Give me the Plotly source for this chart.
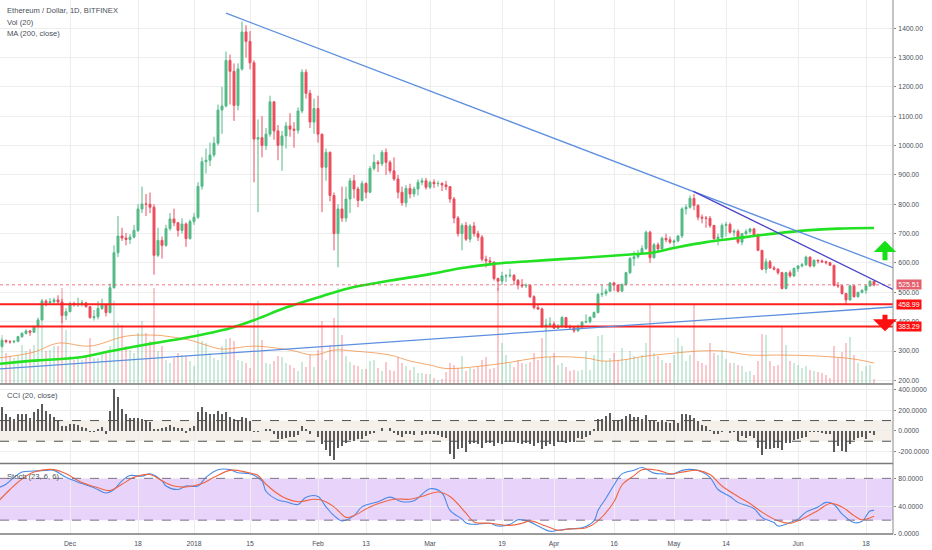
import pandas as pd
import plotly.graph_objects as go

# ---------------- data ----------------
first_date = "2017-11-13"
last_date = "2018-06-20"
first_open = 308

close_nov = [316, 336, 332, 331, 333, 349, 360, 368, 364, 383, 406, 470, 464, 468, 474, 467, 421, 434]
high_nov = [322, 342, 339, 337, 338, 352, 364, 374, 372, 387, 414, 478, 476, 480, 482, 490, 478, 446]
low_nov = [305, 312, 326, 325, 326, 330, 345, 356, 352, 362, 380, 404, 452, 458, 462, 458, 395, 405]

close_dec = [462, 458, 461, 464, 451, 414, 417, 445, 457, 431, 516, 635, 692, 685, 680, 688, 711, 784, 801, 800,
             790, 626, 677, 660, 717, 750, 737, 711, 733, 683, 741]
high_dec = [468, 468, 482, 474, 468, 452, 440, 470, 478, 460, 530, 660, 760, 720, 702, 698, 730, 800, 860, 835,
            840, 800, 720, 690, 730, 770, 785, 740, 752, 738, 748]
low_dec = [432, 452, 450, 452, 448, 410, 404, 408, 440, 418, 428, 512, 620, 675, 660, 665, 684, 706, 770, 760,
           770, 560, 620, 615, 655, 710, 725, 690, 700, 655, 680]

close_jan = [756, 861, 945, 950, 968, 1008, 1121, 1135, 1290, 1253, 1137, 1261, 1387, 1355, 1282, 1022, 1027, 1000,
             1039, 1149, 1050, 1001, 1033, 1067, 1056, 1052, 1118, 1250, 1178, 1080, 1126]
high_jan = [770, 875, 960, 990, 1010, 1030, 1140, 1200, 1320, 1310, 1280, 1280, 1423, 1410, 1390, 1290, 1089, 1100,
            1060, 1170, 1150, 1070, 1050, 1080, 1110, 1080, 1130, 1260, 1260, 1190, 1160]
low_jan = [730, 750, 850, 905, 930, 960, 1000, 1040, 1130, 1140, 1084, 1120, 1255, 1300, 1260, 875, 773, 960,
           985, 1030, 1020, 950, 914, 990, 1030, 993, 1040, 1110, 1160, 1060, 1040]

close_feb = [1039, 926, 977, 830, 700, 784, 753, 818, 880, 852, 813, 871, 841, 922, 943, 938, 977, 943, 914, 886,
             841, 805, 854, 835, 852, 875, 880, 858]
high_feb = [1170, 1040, 990, 980, 840, 800, 860, 860, 890, 900, 860, 880, 875, 930, 970, 950, 985, 990, 950, 960,
            900, 860, 865, 870, 860, 885, 890, 890]
low_feb = [1010, 773, 880, 810, 643, 585, 740, 740, 770, 820, 790, 810, 820, 838, 915, 910, 930, 900, 905, 880,
           820, 795, 790, 820, 825, 830, 865, 850]

close_mar = [875, 870, 871, 866, 860, 818, 753, 700, 728, 681, 726, 700, 688, 613, 607, 603, 547, 538, 556, 556,
             558, 541, 525, 522, 524, 485, 448, 443, 383, 389, 392]
high_mar = [880, 885, 880, 875, 880, 862, 825, 760, 735, 740, 732, 740, 710, 695, 625, 620, 605, 550, 570, 562,
            580, 562, 545, 545, 530, 525, 490, 460, 448, 410, 415]
low_mar = [852, 855, 860, 845, 848, 805, 735, 690, 643, 675, 670, 690, 675, 605, 585, 595, 540, 505, 525, 535,
           550, 525, 510, 515, 515, 480, 442, 440, 380, 368, 385]

close_apr = [378, 383, 414, 381, 380, 369, 381, 398, 400, 415, 431, 493, 496, 504, 532, 525, 504, 527, 567, 615,
             621, 632, 649, 705, 618, 662, 648, 684, 679, 671]
high_apr = [400, 392, 420, 416, 390, 382, 390, 402, 425, 418, 435, 498, 527, 512, 535, 536, 526, 530, 570, 620,
            640, 645, 660, 710, 710, 668, 670, 690, 700, 690]
low_apr = [375, 375, 380, 378, 372, 362, 365, 378, 396, 394, 412, 428, 484, 488, 502, 505, 500, 502, 523, 562,
           590, 615, 628, 645, 600, 615, 640, 645, 670, 665]

close_may = [675, 692, 784, 790, 820, 796, 756, 753, 752, 728, 683, 688, 728, 731, 705, 708, 671, 700, 707, 716,
             696, 643, 579, 604, 583, 579, 567, 513, 567, 556, 581]
high_may = [680, 695, 790, 800, 830, 835, 800, 765, 760, 760, 730, 700, 735, 740, 738, 715, 715, 702, 715, 720,
            720, 700, 645, 615, 610, 590, 582, 570, 570, 575, 585]
low_may = [650, 670, 685, 765, 785, 780, 745, 735, 720, 720, 670, 660, 680, 690, 700, 690, 665, 660, 695, 700,
           690, 640, 575, 565, 580, 575, 560, 510, 510, 550, 552]

close_jun = [590, 594, 620, 590, 609, 607, 604, 601, 592, 524, 522, 496, 474, 522, 485, 500, 507, 522, 538, 525.51]
high_jun = [592, 600, 625, 622, 612, 612, 612, 608, 604, 594, 535, 525, 498, 526, 522, 502, 510, 524, 540, 538]
low_jun = [570, 585, 590, 585, 585, 598, 600, 595, 590, 520, 515, 492, 460, 472, 482, 482, 496, 495, 518, 520]

# volume (relative units)
volume_nov13 = [40]
volume_nov14_jan7 = [49, 31, 28, 26, 29, 39, 33, 35, 39, 56, 84, 33, 34, 38, 38, 96, 54, 28, 24, 26,
                     24, 29, 46, 26, 26, 29, 33, 38, 83, 61, 59, 38, 34, 31, 51, 63, 51, 43, 96, 33,
                     38, 24, 21, 26, 31, 29, 28, 23, 18, 54, 43, 41, 31, 26, 24]
volume_jan8_mar5 = [38, 45, 46, 43, 24, 23, 21, 16, 79, 83, 44, 21, 20, 23, 28, 27, 21, 19, 16, 13,
                    22, 17, 29, 17, 34, 63, 24, 39, 66, 96, 49, 28, 22, 19, 18, 15, 15, 23, 24, 16,
                    13, 22, 14, 13, 27, 21, 18, 14, 17, 11, 11, 10, 10, 6, 4, 5, 12]
volume_mar6_apr29 = [21, 19, 16, 28, 13, 16, 15, 18, 24, 27, 15, 16, 96, 41, 29, 21, 17, 24, 21, 20,
                     22, 31, 24, 46, 54, 27, 31, 19, 21, 17, 13, 14, 13, 14, 33, 14, 29, 48, 49, 23,
                     26, 31, 24, 36, 25, 33, 28, 26, 29, 41, 81, 31, 28, 24, 21]
volume_apr30_jun20 = [21, 29, 46, 38, 23, 29, 79, 23, 21, 19, 41, 31, 29, 34, 25, 21, 21, 19, 18, 12,
                      13, 9, 23, 50, 49, 23, 18, 19, 58, 39, 23, 21, 19, 16, 18, 14, 13, 12, 11, 9,
                      6, 38, 26, 32, 41, 47, 29, 21, 13, 18, 19, 5]

volma_dates = ["2017-11-13", "2017-11-22", "2017-11-28", "2017-12-06", "2017-12-15", "2017-12-22", "2017-12-25",
               "2017-12-31", "2018-01-04", "2018-01-08", "2018-01-16", "2018-01-25", "2018-01-31", "2018-02-05",
               "2018-02-10", "2018-02-19", "2018-02-24", "2018-03-01", "2018-03-05", "2018-03-18", "2018-03-30",
               "2018-04-09", "2018-04-13", "2018-04-18", "2018-04-24", "2018-04-30", "2018-05-07", "2018-05-13",
               "2018-05-20", "2018-05-28", "2018-06-06", "2018-06-15", "2018-06-20"]
volma_vals = [26, 32, 41, 38, 48, 49, 48, 44, 39, 35, 38, 34, 29, 34, 33, 29, 23, 19, 15.5, 20, 27,
              26, 23, 24, 28, 30.5, 33, 33, 29, 29, 28, 25, 21]

ma200_dates = ["2017-11-13", "2017-11-23", "2017-12-03", "2017-12-12", "2017-12-22", "2017-12-31", "2018-01-10",
               "2018-01-16", "2018-01-24", "2018-02-02", "2018-02-10", "2018-02-19", "2018-03-01", "2018-03-09",
               "2018-03-17", "2018-03-26", "2018-04-03", "2018-04-12", "2018-04-20", "2018-04-25", "2018-05-01",
               "2018-05-09", "2018-05-17", "2018-05-26", "2018-06-03", "2018-06-11", "2018-06-20"]
ma200_vals = [256, 268, 278, 302, 327, 348, 378, 405, 448, 487, 518, 540, 562, 583, 597, 606, 613, 621, 629,
              634, 651, 671, 685, 700, 711, 717, 719]

cci_nov13 = [180]
cci_nov14_mar9 = [232, 168, 135, 113, 168, 168, 168, 129, 187, 210, 265, 194, 168, 135, 103, 48, 48, 65, 65, 58,
                  39, 32, -6, -6, 16, 39, -26, 194, 403, 329, 216, 161, 129, 129, 129, 113, 103, 87, 16, 16,
                  32, 42, 55, 42, 32, 32, -23, 32, 45, 187, 232, 187, 168, 168, 194, 168, 187, 135, 113, 103,
                  135, 123, 97, -6, -6, 3, 16, 16, -26, -81, -81, -65, -58, -58, -39, 48, 16, -26, 3, -58,
                  -129, -187, -242, -284, -168, -145, -113, -90, -97, -81, -81, -48, -32, -16, 3, 32, 3, 26, -16, -39,
                  -58, -26, -26, -39, 3, -39, -32, -26, -32, -39, -58, -71, -219, -274, -177, -161]
cci_mar10_jun20 = [-200, -129, -113, -129, -161, -113, -113, -145, -113, -123, -103, -103, -103, -113, -123, -113,
                   -129, -145, -113, -177, -145, -129, -145, -103, -103, -113, -103, -103, -65, -81, -58, -39, 16,
                   113, 113, 145, 177, 97, 103, 113, 145, 161, 135, 135, 113, 155, 103, 97, 90, 103, 90, 81, 103,
                   81, 161, 161, 155, 123, 97, 58, 48, 6, -32, -32, -6, 3, -16, -6, -97, -48, -65, -48, -65, -168,
                   -232, -177, -177, -161, -161, -187, -113, -113, -90, -81, -71, -58, -6, -6, -10, -16, -32, -26,
                   -200, -145, -194, -200, -129, -90, -71, -58, -81, -16, -39]

stoch_k_dates = ["2017-11-13", "2017-11-15", "2017-11-17", "2017-11-19", "2017-11-22", "2017-11-25", "2017-11-27",
                 "2017-11-30", "2017-12-04", "2017-12-07", "2017-12-10", "2017-12-12", "2017-12-14", "2017-12-16",
                 "2017-12-19", "2017-12-21", "2017-12-24", "2017-12-25", "2017-12-28", "2017-12-30", "2018-01-02",
                 "2018-01-04", "2018-01-07", "2018-01-10", "2018-01-12", "2018-01-15", "2018-01-18", "2018-01-19",
                 "2018-01-22", "2018-01-24", "2018-01-27", "2018-01-29", "2018-02-01", "2018-02-03", "2018-02-05",
                 "2018-02-07", "2018-02-10", "2018-02-12", "2018-02-16", "2018-02-19", "2018-02-22", "2018-02-25",
                 "2018-03-01", "2018-03-04", "2018-03-06", "2018-03-09", "2018-03-10", "2018-03-12", "2018-03-16",
                 "2018-03-18", "2018-03-21", "2018-03-23", "2018-03-26", "2018-03-28", "2018-03-31", "2018-04-02",
                 "2018-04-05", "2018-04-08", "2018-04-11", "2018-04-12", "2018-04-14", "2018-04-16", "2018-04-18",
                 "2018-04-21", "2018-04-23", "2018-04-26", "2018-04-28", "2018-05-01", "2018-05-03", "2018-05-06",
                 "2018-05-08", "2018-05-10", "2018-05-12", "2018-05-15", "2018-05-17", "2018-05-21", "2018-05-23",
                 "2018-05-26", "2018-05-27", "2018-05-30", "2018-06-01", "2018-06-03", "2018-06-06", "2018-06-08",
                 "2018-06-10", "2018-06-12", "2018-06-15", "2018-06-17", "2018-06-19", "2018-06-20"]
stoch_k_vals = [66.5, 71.5, 81.5, 89, 90.5, 91.5, 91.5, 81.5, 72.5, 66.5, 59, 64, 76.5, 84, 83, 86.5, 76.5, 69, 64,
                69, 69, 81.5, 92.5, 92.5, 88, 86.5, 76.5, 61.5, 49, 46.5, 42.5, 53, 54, 39, 26.5, 19, 26.5, 39,
                46.5, 53, 46.5, 48, 65, 59, 34, 21.5, 16, 14, 15.5, 11.5, 14, 20.5, 17.5, 11.5, 4, 5.5, 7.5, 9,
                19, 34, 51.5, 70.5, 86.5, 91.5, 95.5, 87.5, 86.5, 86.5, 91.5, 92.5, 89, 81.5, 64, 54, 45.5, 36.5,
                24, 16.5, 11.5, 16.5, 21.5, 31.5, 39, 45.5, 42.5, 29, 16.5, 18.5, 33, 34]

stoch_d_dates = ["2017-11-13", "2017-11-16", "2017-11-19", "2017-11-22", "2017-11-27", "2017-11-30", "2017-12-04",
                 "2017-12-08", "2017-12-11", "2017-12-14", "2017-12-17", "2017-12-21", "2017-12-24", "2017-12-27",
                 "2017-12-30", "2018-01-03", "2018-01-06", "2018-01-10", "2018-01-14", "2018-01-17", "2018-01-19",
                 "2018-01-23", "2018-01-27", "2018-01-31", "2018-02-02", "2018-02-05", "2018-02-08", "2018-02-10",
                 "2018-02-14", "2018-02-20", "2018-02-24", "2018-02-27", "2018-03-03", "2018-03-06", "2018-03-10",
                 "2018-03-12", "2018-03-16", "2018-03-21", "2018-03-24", "2018-03-26", "2018-03-30", "2018-04-02",
                 "2018-04-05", "2018-04-09", "2018-04-12", "2018-04-16", "2018-04-18", "2018-04-21", "2018-04-23",
                 "2018-04-27", "2018-04-30", "2018-05-03", "2018-05-07", "2018-05-10", "2018-05-13", "2018-05-17",
                 "2018-05-20", "2018-05-23", "2018-05-27", "2018-05-30", "2018-06-02", "2018-06-06", "2018-06-09",
                 "2018-06-12", "2018-06-15", "2018-06-17", "2018-06-20"]
stoch_d_vals = [46.5, 64, 79, 89, 92.5, 86.5, 74, 66.5, 62.5, 71.5, 81.5, 85.5, 76.5, 69, 67.5, 72.5, 81.5, 91.5,
                89, 84, 71.5, 54, 46.5, 50, 48.5, 39, 24, 26.5, 39, 50, 50, 54, 60.5, 54, 30, 17.5, 15.5, 12.5,
                15.5, 19, 11.5, 5.5, 7.5, 9, 19, 46.5, 70.5, 84, 92.5, 91.5, 86.5, 89, 91.5, 85.5, 69, 54, 44,
                31.5, 19, 15.5, 21.5, 34, 44, 39, 26.5, 20.5, 25.5]

# drawings
trend_upper_x = ["2018-01-09 00:00", "2018-06-24 18:00"]
trend_upper_y = [1451, 584]
trend_inner_x = ["2018-05-05 20:00", "2018-06-24 18:00"]
trend_inner_y = [844, 510]
trend_lower_x = ["2017-11-13 12:00", "2018-06-24 18:00"]
trend_lower_y = [239, 450]
level_lines = [458.99, 383.29]
last_price = 525.51
arrow_x = "2018-06-22 18:00"
arrow_up_tip = 676
arrow_down_tip = 367

x_range = ["2017-11-13 12:00", "2018-06-24 18:00"]
x_tick_dates = ["2017-11-13 12:00", "2017-12-01 00:00", "2017-12-18 00:00", "2018-01-01 00:00",
                "2018-01-15 00:00", "2018-02-01 00:00", "2018-02-13 00:00", "2018-03-01 00:00",
                "2018-03-19 00:00", "2018-04-01 00:00", "2018-04-16 00:00", "2018-05-01 00:00",
                "2018-05-14 00:00", "2018-06-01 00:00", "2018-06-18 00:00"]
x_tick_text = ["13", "Dec", "18", "2018", "15", "Feb", "13", "Mar", "19", "Apr", "16", "May", "14", "Jun", "18"]
price_ticks = [200, 300, 400, 500, 600, 700, 800, 900, 1000, 1100, 1200, 1300, 1400]
cci_ticks = [-200, 0, 200, 400]
cci_tick_text = ["-200.0000", "0.0000", "200.0000", "400.0000"]
stoch_ticks = [0, 40, 80]
stoch_tick_text = ["0.0000", "40.0000", "80.0000"]

# ---------------- assemble ----------------
dates = pd.date_range(first_date, last_date, freq="D")
closes = close_nov + close_dec + close_jan + close_feb + close_mar + close_apr + close_may + close_jun
highs = high_nov + high_dec + high_jan + high_feb + high_mar + high_apr + high_may + high_jun
lows = low_nov + low_dec + low_jan + low_feb + low_mar + low_apr + low_may + low_jun
opens = [first_open] + closes[:-1]
volumes = volume_nov13 + volume_nov14_jan7 + volume_jan8_mar5 + volume_mar6_apr29 + volume_apr30_jun20
cci = cci_nov13 + cci_nov14_mar9 + cci_mar10_jun20
assert len(dates) == len(closes) == len(highs) == len(lows) == len(volumes) == len(cci)

UP = "#53b987"
DOWN = "#eb4d5c"
vol_colors = ["rgba(83,185,135,0.30)" if c >= o else "rgba(235,77,92,0.30)" for o, c in zip(opens, closes)]
DAY_MS = 86400000

FONT = "Liberation Sans, Arial, sans-serif"
TXT = "#4a4f5a"
GRID = "#ededed"
XR = 893 / 932

fig = go.Figure()

fig.add_trace(go.Bar(x=dates, y=volumes, marker=dict(color=vol_colors, line=dict(width=0)),
                     width=0.72 * DAY_MS, xaxis="x", yaxis="y", hoverinfo="skip"))
fig.add_trace(go.Scatter(x=pd.to_datetime(volma_dates), y=volma_vals, mode="lines", line_shape="spline",
                         line=dict(color="rgba(242,140,60,0.75)", width=1), xaxis="x", yaxis="y"))
fig.add_trace(go.Scatter(x=pd.to_datetime(ma200_dates), y=ma200_vals, mode="lines", line_shape="spline",
                         line=dict(color="#22e022", width=2.6), xaxis="x", yaxis="y2"))
fig.add_trace(go.Candlestick(x=dates, open=opens, high=highs, low=lows, close=closes,
                             increasing=dict(line=dict(color=UP, width=1), fillcolor=UP),
                             decreasing=dict(line=dict(color=DOWN, width=1), fillcolor=DOWN),
                             whiskerwidth=0, xaxis="x", yaxis="y2"))
fig.add_trace(go.Scatter(x=x_range, y=[last_price, last_price], mode="lines",
                         line=dict(color="rgba(235,77,92,0.75)", width=1, dash="dot"), xaxis="x", yaxis="y2"))
for lv in level_lines:
    fig.add_trace(go.Scatter(x=x_range, y=[lv, lv], mode="lines", line=dict(color="#ff1f1f", width=2),
                             xaxis="x", yaxis="y2"))
fig.add_trace(go.Scatter(x=trend_upper_x, y=trend_upper_y, mode="lines", line=dict(color="#5d8fe0", width=1.3),
                         xaxis="x", yaxis="y2"))
fig.add_trace(go.Scatter(x=trend_inner_x, y=trend_inner_y, mode="lines", line=dict(color="#4a45c8", width=1.3),
                         xaxis="x", yaxis="y2"))
fig.add_trace(go.Scatter(x=trend_lower_x, y=trend_lower_y, mode="lines", line=dict(color="#5d8fe0", width=1.3),
                         xaxis="x", yaxis="y2"))

fig.add_trace(go.Bar(x=dates, y=cci, marker=dict(color="#5a5a5a", line=dict(width=0)), width=0.26 * DAY_MS,
                     xaxis="x", yaxis="y3"))
fig.add_trace(go.Scatter(x=pd.to_datetime(stoch_k_dates), y=stoch_k_vals, mode="lines", line_shape="spline",
                         line=dict(color="#4a8ae6", width=1.1), xaxis="x", yaxis="y4"))
fig.add_trace(go.Scatter(x=pd.to_datetime(stoch_d_dates), y=stoch_d_vals, mode="lines", line_shape="spline",
                         line=dict(color="#f0653f", width=1.1), xaxis="x", yaxis="y4"))

shapes = [
    dict(type="rect", xref="paper", x0=0, x1=XR, yref="y3", y0=-100, y1=100, fillcolor="#f5f1ea",
         line=dict(width=0), layer="below"),
    dict(type="rect", xref="paper", x0=0, x1=XR, yref="y4", y0=20, y1=80, fillcolor="#e8d3fb",
         line=dict(width=0), layer="below"),
]
for v in (100, -100):
    shapes.append(dict(type="line", xref="paper", x0=0, x1=XR, yref="y3", y0=v, y1=v,
                       line=dict(color="#505050", width=1, dash="dash")))
for v in (80, 20):
    shapes.append(dict(type="line", xref="paper", x0=0, x1=XR, yref="y4", y0=v, y1=v,
                       line=dict(color="#7d6f8a", width=1, dash="dash")))
for yp in (1 - 386 / 550, 1 - 466 / 550, 1 - 537 / 550):
    shapes.append(dict(type="line", xref="paper", x0=0, x1=XR, yref="paper", y0=yp, y1=yp,
                       line=dict(color="#7a7a7a", width=1.5)))
shapes.append(dict(type="line", xref="paper", x0=XR, x1=XR, yref="paper", y0=1 - 537 / 550, y1=1,
                   line=dict(color="#8a8a8a", width=1)))

annotations = []
for txt, ypx in (("Ethereum / Dollar, 1D, BITFINEX", 11), ("Vol (20)", 22.5), ("MA (200, close)", 34),
                 ("CCI (20, close)", 398), ("Stoch (23, 6, 6)", 479)):
    annotations.append(dict(text=txt, xref="paper", yref="paper", x=4.5 / 932, y=1 - ypx / 550, xanchor="left",
                            yanchor="middle", showarrow=False, font=dict(family=FONT, size=7.6, color=TXT)))
for val, bg in ((last_price, "#e4606e"), (level_lines[0], "#ff1010"), (level_lines[1], "#ff1010")):
    annotations.append(dict(text=f"{val:.2f}", xref="paper", yref="y2", x=XR, y=val, xanchor="left",
                            yanchor="middle", xshift=3, showarrow=False, bgcolor=bg, borderpad=1.2,
                            font=dict(family=FONT, size=7, color="white")))
annotations.append(dict(x=arrow_x, y=arrow_up_tip, xref="x", yref="y2", ax=0, ay=21, showarrow=True,
                        arrowhead=1, arrowsize=0.75, arrowwidth=5, arrowcolor="#17e017", text=""))
annotations.append(dict(x=arrow_x, y=arrow_down_tip, xref="x", yref="y2", ax=0, ay=-18, showarrow=True,
                        arrowhead=1, arrowsize=0.8, arrowwidth=5, arrowcolor="#ff1010", text=""))

tickfont = dict(family=FONT, size=6.8, color=TXT)
fig.update_layout(
    width=932, height=550, margin=dict(l=0, r=0, t=0, b=0),
    paper_bgcolor="white", plot_bgcolor="white", showlegend=False, bargap=0, hovermode=False,
    shapes=shapes, annotations=annotations,
    xaxis=dict(domain=[0, XR], range=x_range, type="date", anchor="y4",
               tickvals=pd.to_datetime(x_tick_dates, format="%Y-%m-%d %H:%M"),
               ticktext=x_tick_text, showgrid=True, gridcolor=GRID, gridwidth=1, tickfont=tickfont,
               ticks="", showline=False, zeroline=False, rangeslider=dict(visible=False), ticklabelstandoff=4),
    yaxis=dict(domain=[1 - 386 / 550, 1], range=[0, 386], visible=False, showgrid=False, zeroline=False),
    yaxis2=dict(overlaying="y", side="right", anchor="x", range=[188, 1496], tickvals=price_ticks,
                tickformat=".2f", showgrid=True, gridcolor=GRID, tickfont=tickfont, ticks="outside",
                ticklen=2, tickcolor="#8a8a8a", zeroline=False, ticklabelstandoff=1),
    yaxis3=dict(domain=[1 - 466 / 550, 1 - 386 / 550], range=[-315, 455], side="right", anchor="x",
                tickvals=cci_ticks, ticktext=cci_tick_text, showgrid=True, gridcolor=GRID, tickfont=tickfont,
                ticks="outside", ticklen=2, tickcolor="#8a8a8a", zeroline=False, ticklabelstandoff=1),
    yaxis4=dict(domain=[1 - 537 / 550, 1 - 466 / 550], range=[0, 101.4], side="right", anchor="x",
                tickvals=stoch_ticks, ticktext=stoch_tick_text, showgrid=True, gridcolor=GRID,
                tickfont=tickfont, ticks="outside", ticklen=2, tickcolor="#8a8a8a", zeroline=False,
                ticklabelstandoff=1),
)

fig.write_html("out.html", config={"displayModeBar": False, "staticPlot": True},
               post_script="document.body.style.margin='0px';document.body.style.overflow='hidden';")
